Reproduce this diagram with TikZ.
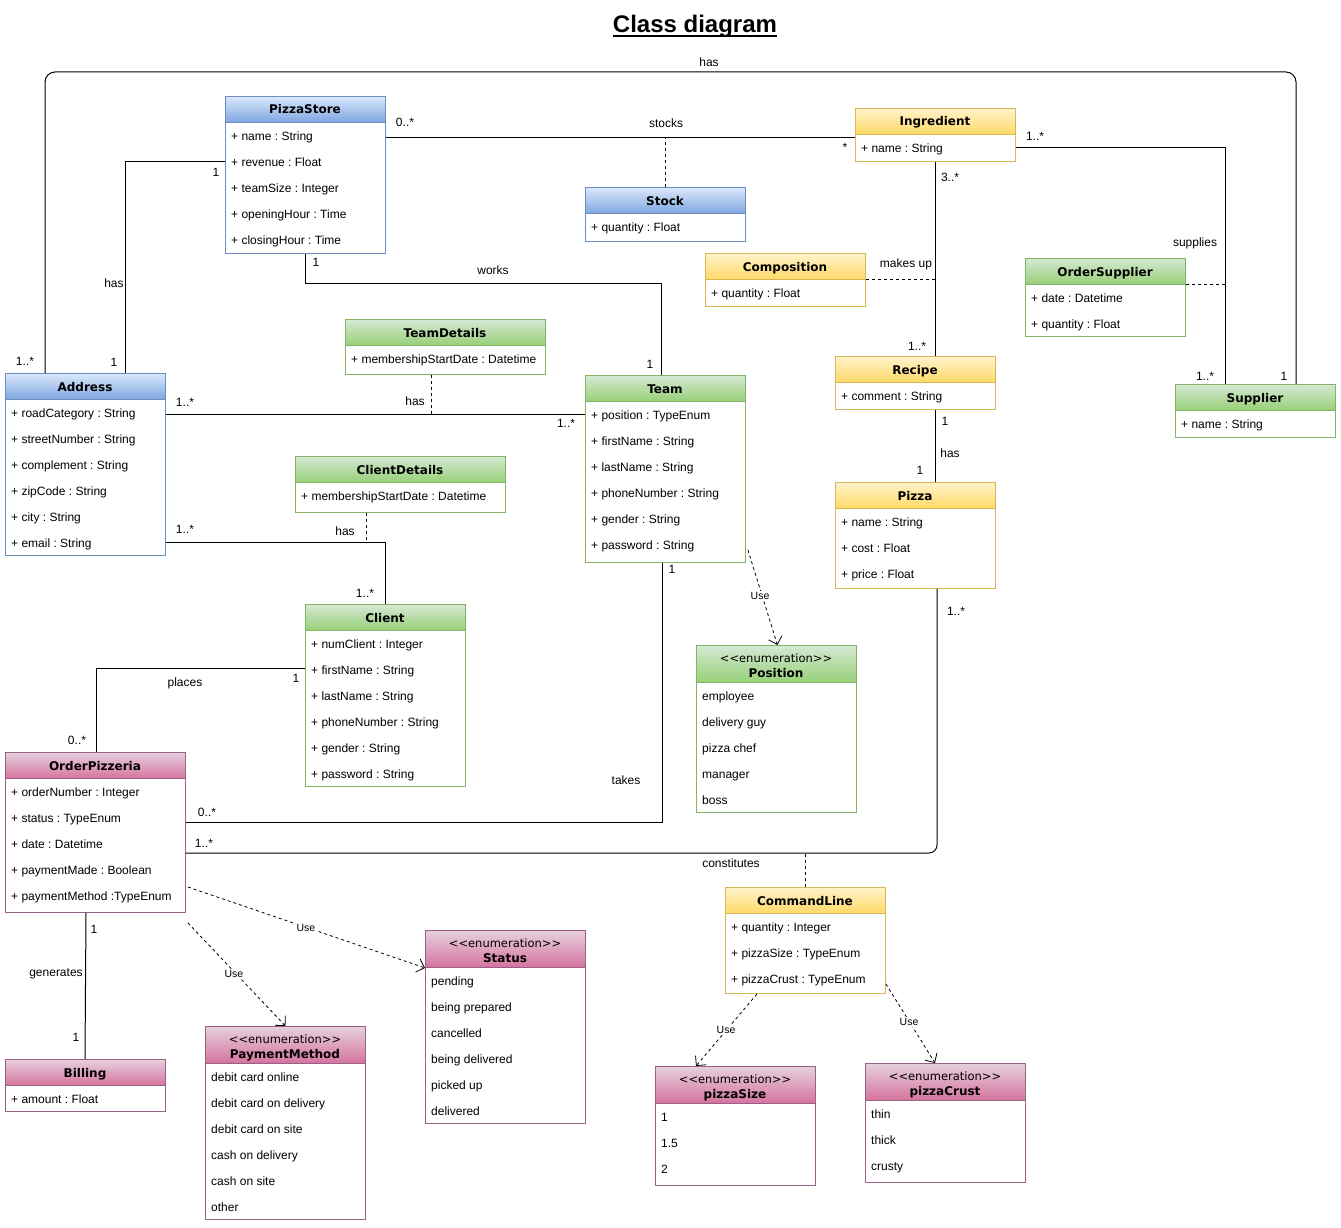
\documentclass[tikz,border=0pt]{standalone}
\usepackage{fontspec}
\setmainfont{Liberation Sans}
\newfontfamily\dvs{DejaVu Sans}
\usetikzlibrary{arrows.meta}
\frenchspacing
\definecolor{blueT}{HTML}{DAE8FC}\definecolor{blueB}{HTML}{7EA6E0}\definecolor{blueS}{HTML}{6C8EBF}
\definecolor{yelT}{HTML}{FFF2CC}\definecolor{yelB}{HTML}{FFD966}\definecolor{yelS}{HTML}{D6B656}
\definecolor{grnT}{HTML}{D5E8D4}\definecolor{grnB}{HTML}{97D077}\definecolor{grnS}{HTML}{82B366}
\definecolor{pnkT}{HTML}{E6D0DE}\definecolor{pnkB}{HTML}{D5739D}\definecolor{pnkS}{HTML}{996185}
\tikzset{
 hdr/.style={draw=#1S, top color=#1T, bottom color=#1B, inner sep=0pt, anchor=north west, line width=0.9pt},
 bodybox/.style={draw=#1S, fill=white, inner sep=0pt, anchor=north west, line width=0.9pt},
 ttl/.style={anchor=base, inner sep=0pt, font=\dvs\bfseries\fontsize{12}{14}\selectfont},
 stereo/.style={anchor=base, inner sep=0pt, font=\dvs\fontsize{11.5}{14}\selectfont},
 attr/.style={anchor=base west, inner sep=0pt, font=\frenchspacing\fontsize{12}{14}\selectfont},
 lbl/.style={inner sep=0pt, text height=8.6pt, text depth=0pt, font=\fontsize{12}{14}\selectfont},
 uselbl/.style={inner sep=1pt, fill=white, text height=7.6pt, text depth=0pt, font=\fontsize{10.5}{12}\selectfont},
 conn/.style={draw=black, line width=1pt},
 assocd/.style={draw=black, line width=0.9pt, dash pattern=on 3pt off 3pt},
 usearrow/.style={draw=black, line width=0.8pt, dash pattern=on 3pt off 3pt, -{Straight Barb[length=7pt,width=14pt]}}
}
\newcommand\klass[8]{%
  \node[bodybox=#2, minimum width=#5, minimum height=#7] (#1-b) at (#3,#4+#6) {};
  \node[hdr=#2, minimum width=#5, minimum height=#6] (#1) at (#3,#4) {};
  \node[ttl] (#1-t) at (#3+#5/2,#4+18) {#8};
}
\newcommand\enumk[7]{%
  \node[bodybox=#2, minimum width=#5, minimum height=#6] (#1-b) at (#3,#4+37) {};
  \node[hdr=#2, minimum width=#5, minimum height=37] (#1) at (#3,#4) {};
  \node[stereo] (#1-s) at (#3+#5/2,#4+17) {<{}<enumeration>{}>};
  \node[ttl] (#1-t) at (#3+#5/2,#4+32) {#7};
}
\newcommand\rowsat[4]{%
  \foreach \t [count=\i] in {#4} {\node[attr] (#1-r\i) at (#2+6,#3+18.5+26*\i-26) {\t};}
}
\begin{document}
\begin{tikzpicture}[x=1pt,y=-1pt]
\fill[white] (0,0) rectangle (1341,1228);
\useasboundingbox (0,0) rectangle (1341,1228);

% title
\node[font=\bfseries\fontsize{24}{28}\selectfont, anchor=base, inner sep=0pt] (title) at (695,33) {Class diagram};
\draw[line width=2pt] ([yshift=-3.5pt]title.base west) -- ([yshift=-3.5pt]title.base east);

% classes
\klass{ps}{blue}{225}{96}{160}{26}{131}{PizzaStore}
\rowsat{ps}{225}{122}{+ name : String,+ revenue : Float,+ teamSize : Integer,+ openingHour : Time,+ closingHour : Time}
\klass{stock}{blue}{585}{187}{160}{26}{28}{Stock}
\rowsat{stock}{585}{213}{+ quantity : Float}
\klass{ingr}{yel}{855}{108}{160}{26}{27}{Ingredient}
\rowsat{ingr}{855}{134}{+ name : String}
\klass{comp}{yel}{705}{253}{160}{26}{27}{Composition}
\rowsat{comp}{705}{279}{+ quantity : Float}
\klass{osup}{grn}{1025}{258}{160}{26}{52}{OrderSupplier}
\rowsat{osup}{1025}{284}{+ date : Datetime,+ quantity : Float}
\klass{rec}{yel}{835}{356}{160}{26}{27}{Recipe}
\rowsat{rec}{835}{382}{+ comment : String}
\klass{sup}{grn}{1175}{384}{160}{26}{27}{Supplier}
\rowsat{sup}{1175}{410}{+ name : String}
\klass{tdet}{grn}{345}{319}{200}{26}{29}{TeamDetails}
\rowsat{tdet}{345}{345}{+ membershipStartDate : Datetime}
\klass{addr}{blue}{5}{373}{160}{26}{156}{Address}
\rowsat{addr}{5}{399}{+ roadCategory : String,+ streetNumber : String,+ complement : String,+ zipCode : String,+ city : String,+ email : String}
\klass{team}{grn}{585}{375}{160}{26}{161}{Team}
\rowsat{team}{585}{401}{+ position : TypeEnum,+ firstName : String,+ lastName : String,+ phoneNumber : String,+ gender : String,+ password : String}
\klass{pizza}{yel}{835}{482}{160}{26}{80}{Pizza}
\rowsat{pizza}{835}{508}{+ name : String,+ cost : Float,+ price : Float}
\klass{cdet}{grn}{295}{456}{210}{26}{30}{ClientDetails}
\rowsat{cdet}{295}{482}{+ membershipStartDate : Datetime}
\klass{client}{grn}{305}{604}{160}{26}{156}{Client}
\rowsat{client}{305}{630}{+ numClient : Integer,+ firstName : String,+ lastName : String,+ phoneNumber : String,+ gender : String,+ password : String}
\enumk{pos}{grn}{696}{645}{160}{130}{Position}
\rowsat{pos}{696}{682}{employee,delivery guy,pizza chef,manager,boss}
\klass{op}{pnk}{5}{752}{180}{26}{134}{OrderPizzeria}
\rowsat{op}{5}{778}{+ orderNumber : Integer,+ status : TypeEnum,+ date : Datetime,+ paymentMade : Boolean,+ paymentMethod :TypeEnum}
\klass{cl}{yel}{725}{887}{160}{26}{80}{CommandLine}
\rowsat{cl}{725}{913}{+ quantity : Integer,+ pizzaSize : TypeEnum,+ pizzaCrust : TypeEnum}
\klass{bill}{pnk}{5}{1059}{160}{26}{26}{Billing}
\rowsat{bill}{5}{1085}{+ amount : Float}
\enumk{pay}{pnk}{205}{1026}{160}{156}{PaymentMethod}
\rowsat{pay}{205}{1063}{debit card online,debit card on delivery,debit card on site,cash on delivery,cash on site,other}
\enumk{stat}{pnk}{425}{930}{160}{156}{Status}
\rowsat{stat}{425}{967}{pending,being prepared,cancelled,being delivered,picked up,delivered}
\enumk{psize}{pnk}{655}{1066}{160}{82}{pizzaSize}
\rowsat{psize}{655}{1103}{1,1.5,2}
\enumk{pcrust}{pnk}{865}{1063}{160}{82}{pizzaCrust}
\rowsat{pcrust}{865}{1100}{thin,thick,crusty}

% connectors
\coordinate (loopY) at (700,72);
\draw[conn,rounded corners=10pt] ([xshift=40pt]addr.north west) |- (loopY) -| ([xshift=121pt]sup.north west);
\draw[conn] ([yshift=-39pt]ps-b.north west) -| ([xshift=120pt]addr.north west);
\draw[conn] ([yshift=-16pt]ps-b.north east) coordinate (stA) -- ([yshift=-4pt]ingr-b.north west);
\draw[assocd] (stock.north) -- (stock.north |- stA);
\draw[conn] ([xshift=80pt]ps-b.south west) -- ++(0,30) -| ([xshift=76pt]team.north west);
\draw[conn] ([yshift=-15pt]addr-b.north east) coordinate (atA) -- ([yshift=-13pt]team-b.north west);
\coordinate (tdA) at ([xshift=86pt]tdet-b.south west);
\draw[assocd] (tdA) -- (tdA |- atA);
\draw[conn] ([yshift=13pt]addr-b.south east) coordinate (acA) -| (client.north);
\coordinate (cdA) at ([xshift=71pt]cdet-b.south west);
\draw[assocd] (cdA) -- (cdA |- acA);
\draw[conn] ([yshift=-38pt]client-b.north west) -| ([xshift=91pt]op.north west);
\draw[conn] ([xshift=77pt]team-b.south west) |- ([yshift=-44pt]op-b.north east);
\draw[conn,rounded corners=8pt] ([xshift=102pt]pizza-b.south west) |- ([yshift=-75pt]op-b.north east) coordinate (coB);
\draw[assocd] (cl.north) -- (cl.north |- coB);
\draw[conn] (ingr-b.south) -- (ingr-b.south |- rec.north);
\draw[assocd] (comp.south east) -- (comp.south east -| ingr-b.south);
\coordinate (supA) at ([xshift=50pt]sup.north west);
\draw[conn] ([yshift=-14pt]ingr-b.north east) -| (supA);
\draw[assocd] (osup.south east) -- (osup.south east -| supA);
\draw[conn] ([xshift=100pt]rec-b.south west) -- ([xshift=100pt]pizza.north west);
\draw[conn] ([xshift=81pt]op-b.south west) -- ([xshift=80pt]bill.north west);

% dependency arrows
\draw[usearrow] ([xshift=2pt,yshift=13pt]team-b.south east) -- ([xshift=1pt]pos.north);
\draw[usearrow] ([xshift=2pt,yshift=-109pt]op-b.north east) -- (stat.south west);
\draw[usearrow] ([xshift=2pt,yshift=-10pt]op-b.south east) -- (pay.north);
\draw[usearrow] ([xshift=32pt]cl-b.south west) -- ([xshift=41pt]psize.north west);
\draw[usearrow] ([yshift=10pt]cl-b.south east) -- ([xshift=70pt]pcrust.north west);
\node[uselbl] (u1) at (760,596) {Use};
\node[uselbl] (u2) at (306,928) {Use};
\node[uselbl] (u3) at (234,974) {Use};
\node[uselbl] (u4) at (726,1030) {Use};
\node[uselbl] (u5) at (909,1022) {Use};

% labels
\node[lbl] (l1) at (709,62) {has};
\node[lbl] (l2) at (25,361) {1..*};
\node[lbl] (l3) at (1284,376) {1};
\node[lbl] (l4) at (405,122) {0..*};
\node[lbl] (l5) at (666,123) {stocks};
\node[lbl] (l6) at (845,147) {*};
\node[lbl] (l7) at (216,172) {1};
\node[lbl] (l8) at (114,283) {has};
\node[lbl] (l9) at (114,362) {1};
\node[lbl] (l10) at (316,262) {1};
\node[lbl] (l11) at (493,270) {works};
\node[lbl] (l12) at (650,364) {1};
\node[lbl] (l13) at (1035,136) {1..*};
\node[lbl] (l14) at (950,177) {3..*};
\node[lbl] (l15) at (906,263) {makes up};
\node[lbl] (l16) at (917,346) {1..*};
\node[lbl] (l17) at (1195,242) {supplies};
\node[lbl] (l18) at (1205,376) {1..*};
\node[lbl] (l19) at (945,421) {1};
\node[lbl] (l20) at (950,453) {has};
\node[lbl] (l21) at (920,470) {1};
\node[lbl] (l22) at (185,402) {1..*};
\node[lbl] (l23) at (415,401) {has};
\node[lbl] (l24) at (566,423) {1..*};
\node[lbl] (l25) at (185,529) {1..*};
\node[lbl] (l26) at (345,531) {has};
\node[lbl] (l27) at (365,593) {1..*};
\node[lbl] (l28) at (672,569) {1};
\node[lbl] (l29) at (956,611) {1..*};
\node[lbl] (l30) at (296,678) {1};
\node[lbl] (l31) at (185,682) {places};
\node[lbl] (l32) at (77,740) {0..*};
\node[lbl] (l33) at (626,780) {takes};
\node[lbl] (l34) at (207,812) {0..*};
\node[lbl] (l35) at (204,843) {1..*};
\node[lbl] (l36) at (731,863) {constitutes};
\node[lbl] (l37) at (94,929) {1};
\node[lbl] (l38) at (56,972) {generates};
\node[lbl] (l39) at (76,1037) {1};
\end{tikzpicture}
\end{document}
